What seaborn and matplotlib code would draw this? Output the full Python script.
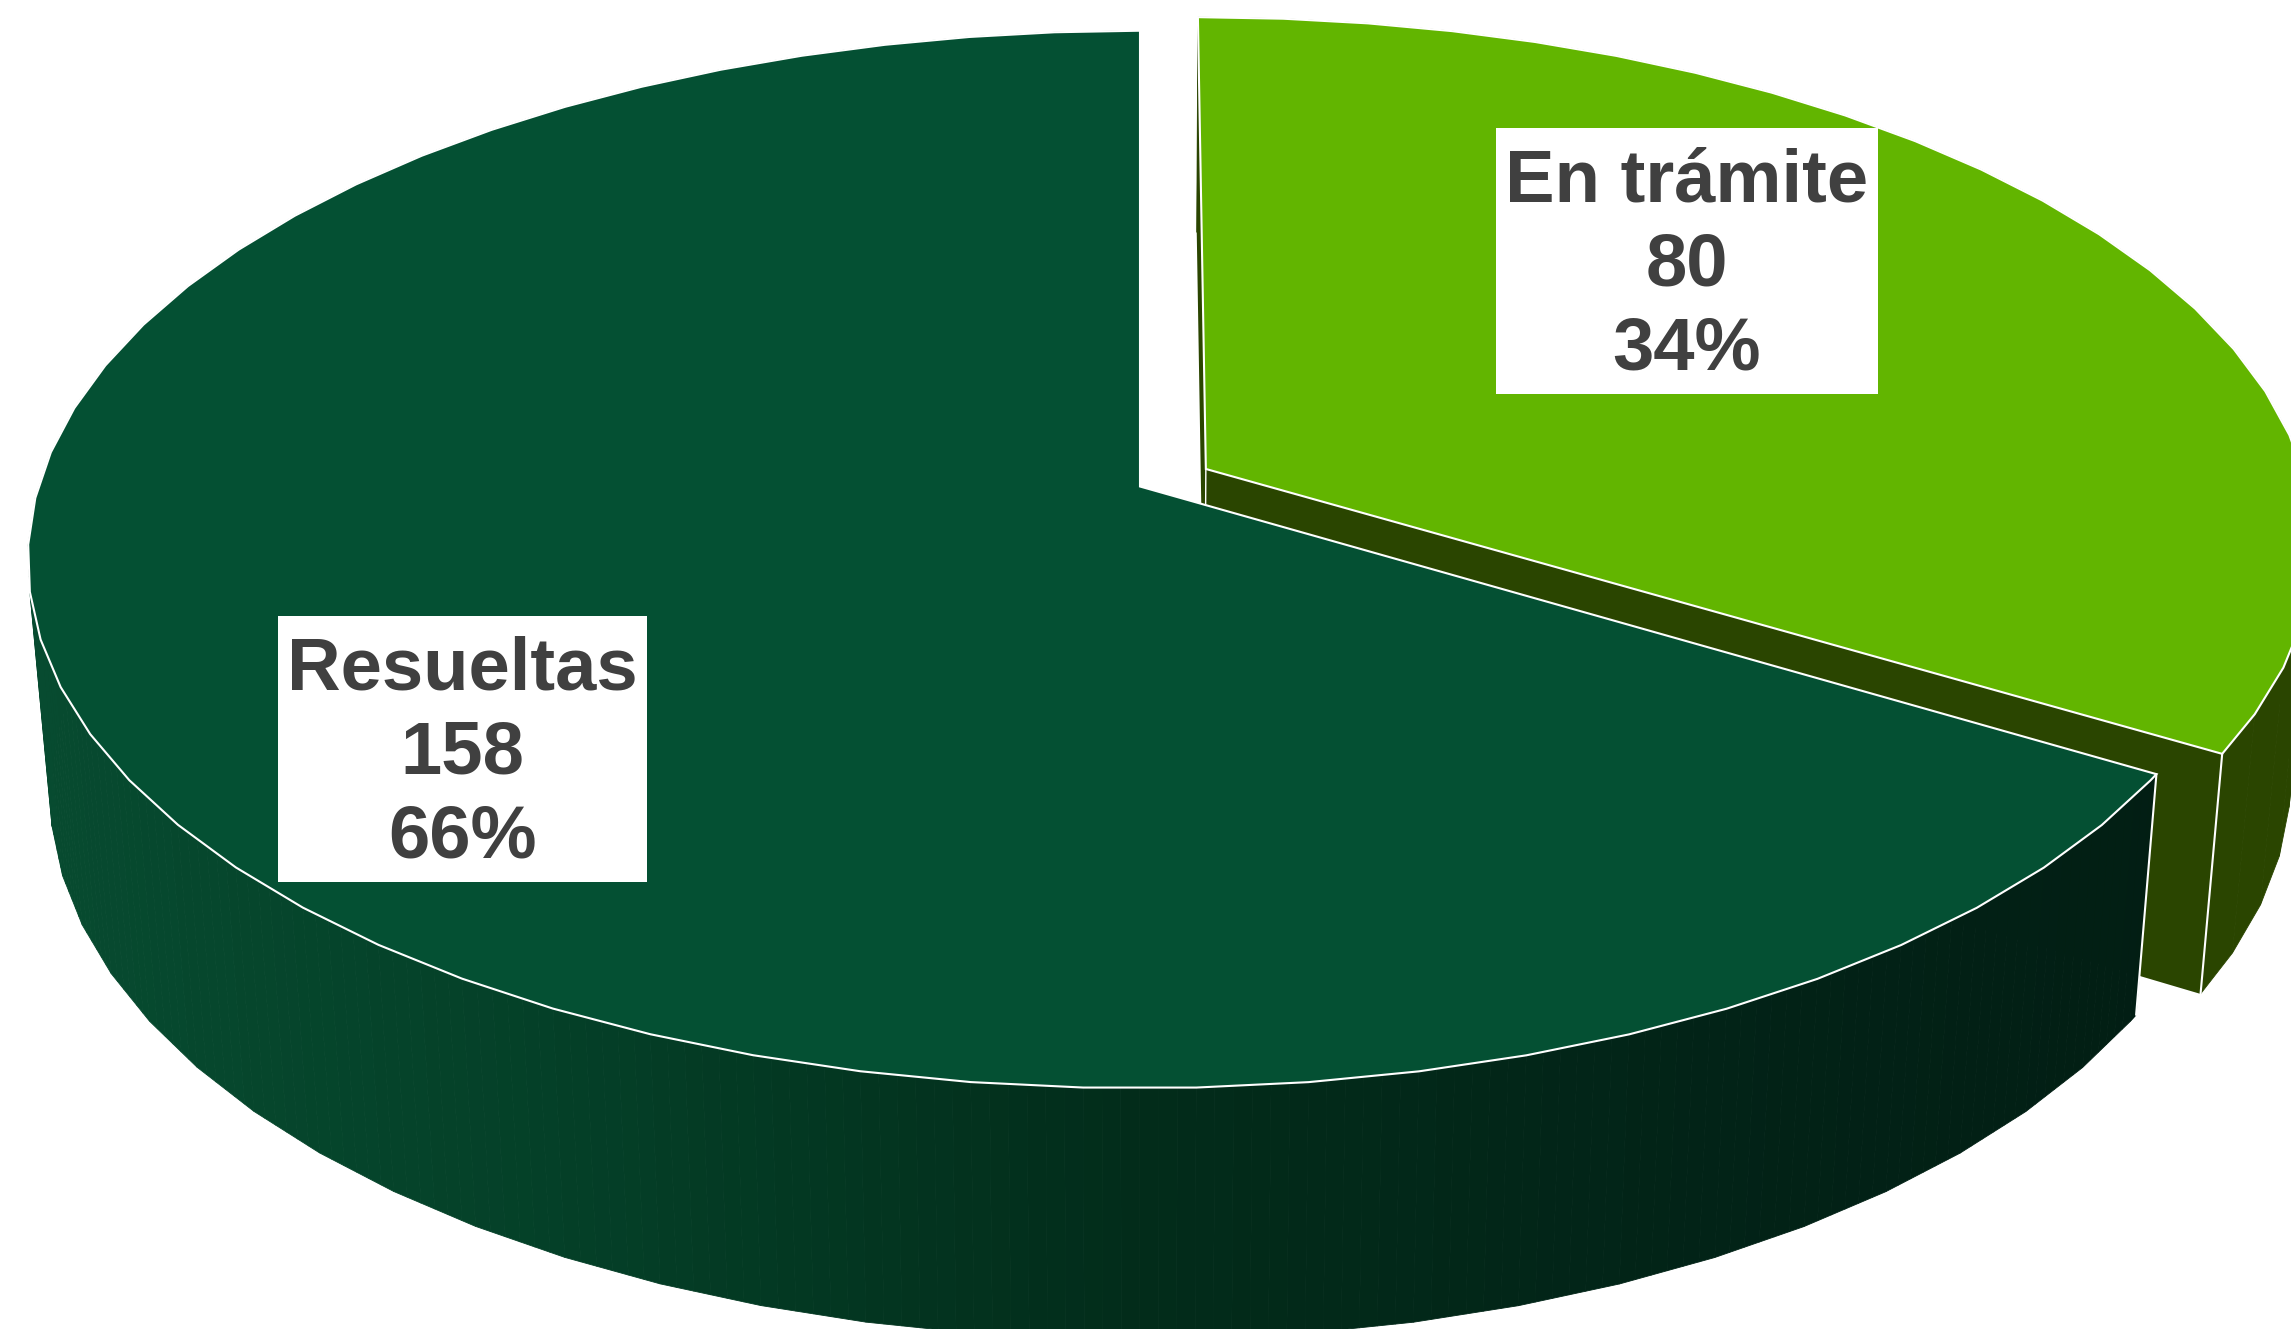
import numpy as np
import matplotlib
matplotlib.use("Agg")
import matplotlib.pyplot as plt
from matplotlib.patches import Rectangle
import seaborn as sns

# ==========================================
# DATA
# ==========================================
categories = ["En trámite", "Resueltas"]
values = [80, 158]

# ==========================================
# STYLE + PROJECTION SETTINGS (pixels of the 2291x1329 canvas)
# ==========================================
sns.set_theme(style="white")
plt.rcParams['font.family'] = ['Liberation Sans', 'DejaVu Sans']

GREEN_TOP = "#62b500"
GREEN_SIDE = "#2a4500"
DARK_TOP = "#045033"
wall_colors = sns.blend_palette(["#074b30", "#043f27", "#022c1a", "#022317", "#021d13"], n_colors=120)
TEXT_COLOR = "#404040"

W, H = 2291, 1329
CX, CY = 1140.0, 486.5
RX, RY = 1101.6, 518.7
PERSP = 0.138
EXPLODE = 0.069
X_SHRINK = 0.98
DEPTH, DEPTH_SLOPE = 231.0, 0.034
FACET = 5.07
EDGE_LW = 1.5


def project(theta, radius=1.0, dx=0.0, dy=0.0):
    # theta in degrees clockwise from 12 o'clock
    t = np.radians(theta)
    mx = radius * np.sin(t) + dx
    my = radius * np.cos(t) + dy
    w = 1 + PERSP * my
    return CX + RX * mx / w, CY - RY * my / w


def lower(x, y):
    # same point on the bottom face of the pie
    return CX + (x - CX) * X_SHRINK, y + DEPTH + DEPTH_SLOPE * (y - CY)


def dense(xs, ys, n=6):
    # split every facet for the gradient, the facets stay straight
    pos = np.arange(len(xs))
    fine = np.linspace(0, len(xs) - 1, (len(xs) - 1) * n + 1)
    return np.interp(fine, pos, xs), np.interp(fine, pos, ys)


# ==========================================
# ANGLES FROM THE VALUES
# ==========================================
total = sum(values)
split = 360 * values[0] / total
mid = np.radians(split / 2)
ex, ey = EXPLODE * np.sin(mid), EXPLODE * np.cos(mid)

green_angles = np.r_[np.arange(0, split - 0.5, FACET), split]
dark_angles = np.r_[split, np.arange(360, split + 0.5, -FACET)[::-1]]

fig = plt.figure(figsize=(W / 100, H / 100), dpi=100)
ax = fig.add_axes([0, 0, 1, 1])
ax.set_xlim(0, W)
ax.set_ylim(H, 0)
ax.axis("off")

# ==========================================
# GREEN SLICE (exploded)
# ==========================================
gx, gy = project(green_angles, 1.0, ex, ey)
ax0, ay0 = project(0.0, 0.0, ex, ey)
gx_low, gy_low = lower(gx, gy)
ax_low, ay_low = lower(ax0, ay0)

# cut faces
ax.fill([gx[0], ax0, ax_low, gx_low[0]], [gy[0], ay0, ay_low, gy_low[0]], color=GREEN_SIDE, lw=0, zorder=1)
ax.fill([gx[-1], ax0, ax_low, gx_low[-1]], [gy[-1], ay0, ay_low, gy_low[-1]], color=GREEN_SIDE, lw=0, zorder=1)
# outer wall, facet by facet so the fold at the right stays filled
for i in range(len(gx) - 1):
    ax.fill([gx[i], gx[i + 1], gx_low[i + 1], gx_low[i]],
            [gy[i], gy[i + 1], gy_low[i + 1], gy_low[i]],
            facecolor=GREEN_SIDE, edgecolor=GREEN_SIDE, lw=0.6, zorder=1)
ax.plot([ax0, ax_low], [ay0, ay_low], color="white", lw=1.0, zorder=1.5)
ax.plot([gx[-1], gx_low[-1]], [gy[-1], gy_low[-1]], color="white", lw=EDGE_LW, zorder=1.5)
# top
ax.fill(np.r_[ax0, gx], np.r_[ay0, gy], facecolor=GREEN_TOP, edgecolor="white", lw=EDGE_LW,
        joinstyle="miter", zorder=1.6)

# ==========================================
# DARK SLICE
# ==========================================
bx, by = project(dark_angles, 1.0)
bx_low, by_low = lower(bx, by)
fx, fy = dense(bx, by)
fx_low, fy_low = dense(bx_low, by_low)

for i in range(len(fx) - 1):
    xm = (fx[i] + fx[i + 1]) / 2
    idx = int(np.clip(xm / W * len(wall_colors), 0, len(wall_colors) - 1))
    ax.fill([fx[i], fx[i + 1], fx_low[i + 1], fx_low[i]],
            [fy[i], fy[i + 1], fy_low[i + 1], fy_low[i]],
            facecolor=wall_colors[idx], edgecolor=wall_colors[idx], lw=0.6, zorder=2)

ax.plot([bx[0], bx_low[0]], [by[0], by_low[0]], color="white", lw=EDGE_LW, zorder=2.5)
cx0, cy0 = project(0.0, 0.0)
ax.fill(np.r_[cx0, bx], np.r_[cy0, by], facecolor=DARK_TOP, edgecolor="white", lw=EDGE_LW,
        joinstyle="miter", zorder=3)

# ==========================================
# LABELS
# ==========================================
label_boxes = {"En trámite": (1496, 128, 382, 266), "Resueltas": (278, 616, 369, 266)}
for name, val in zip(categories, values):
    x0, y0, bw, bh = label_boxes[name]
    ax.add_patch(Rectangle((x0, y0), bw, bh, facecolor="white", edgecolor="none", zorder=5))
    ax.text(x0 + bw / 2, y0 + bh / 2 + 5, f"{name}\n{val}\n{val / total * 100:.0f}%",
            ha="center", va="center", ma="center", fontsize=53.5, fontweight="bold",
            color=TEXT_COLOR, linespacing=1.28, zorder=6)

fig.savefig("out.png", dpi=100, facecolor="white")
